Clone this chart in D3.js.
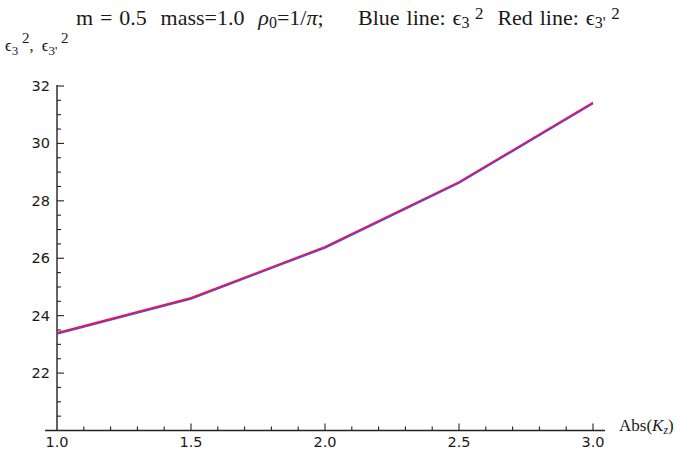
<!DOCTYPE html>
<html>
<head>
<meta charset="utf-8">
<script src="https://cdn.jsdelivr.net/npm/d3@7"></script>
<style>
body { margin: 0; background: #fff; }
text { fill: #1a1a1a; white-space: pre; }
</style>
</head>
<body>
<script>
// Abs(Kz) sample points and the two curves
var kz = [1.0, 1.5, 2.0, 2.5, 3.0];
var eps3 = [23.36, 24.58, 26.36, 28.62, 31.39];
var eps3p = [23.40, 24.62, 26.40, 28.66, 31.43];
var xTicks = [1.0, 1.5, 2.0, 2.5, 3.0];
var yTicks = [22, 24, 26, 28, 30, 32];

var width = 686, height = 459;

var svg = d3.select("body")
	.append("svg")
	.attr("width", width)
	.attr("height", height);

var x = d3.scaleLinear().domain([1, 3]).range([57, 593]);
var y = d3.scaleLinear().domain([20, 32]).range([430.5, 86]);

// axes lines (a bit longer than the data range, like Mathematica)
svg.append("line")
	.attr("x1", 45).attr("x2", 605)
	.attr("y1", y(20)).attr("y2", y(20))
	.attr("stroke", "#222").attr("stroke-width", 1.4);
svg.append("line")
	.attr("x1", x(1)).attr("x2", x(1))
	.attr("y1", y(20)).attr("y2", y(32) - 1)
	.attr("stroke", "#222").attr("stroke-width", 1.4);

// minor + major ticks on x
var xMinor = d3.range(11, 31).map(function(d){ return d / 10; });
svg.selectAll(".xt")
	.data(xMinor)
	.enter()
	.append("line")
	.attr("x1", function(d){ return x(d); })
	.attr("x2", function(d){ return x(d); })
	.attr("y1", y(20))
	.attr("y2", function(d){ return y(20) - (Math.abs(d * 2 - Math.round(d * 2)) < 1e-6 ? 7 : 4); })
	.attr("stroke", "#222").attr("stroke-width", 1.1);

var yMinor = d3.range(41, 65).map(function(d){ return d / 2; });
svg.selectAll(".yt")
	.data(yMinor)
	.enter()
	.append("line")
	.attr("y1", function(d){ return y(d); })
	.attr("y2", function(d){ return y(d); })
	.attr("x1", x(1))
	.attr("x2", function(d){ return x(1) + (d % 2 == 0 ? 7 : 4); })
	.attr("stroke", "#222").attr("stroke-width", 1.1);

svg.selectAll(".xl")
	.data(xTicks)
	.enter()
	.append("text")
	.attr("x", function(d){ return x(d); })
	.attr("y", 447)
	.attr("text-anchor", "middle")
	.attr("font-family", "DejaVu Sans")
	.attr("font-size", 14.5)
	.text(function(d){ return d.toFixed(1); });

svg.selectAll(".yl")
	.data(yTicks)
	.enter()
	.append("text")
	.attr("x", 50)
	.attr("y", function(d){ return y(d) + 5; })
	.attr("text-anchor", "end")
	.attr("font-family", "DejaVu Sans")
	.attr("font-size", 14.5)
	.text(function(d){ return d; });

// curves
var line = d3.line()
	.x(function(d, i){ return x(kz[i]); })
	.y(function(d){ return y(d); });

svg.append("path")
	.attr("d", line(eps3))
	.attr("fill", "none")
	.attr("stroke", "#4848ff")
	.attr("stroke-width", 1.6);
svg.append("path")
	.attr("d", line(eps3p))
	.attr("fill", "none")
	.attr("stroke", "#e8164a")
	.attr("stroke-width", 1.6);

// title
var serif = "Liberation Serif";
var t = svg.append("text")
	.attr("x", 76).attr("y", 25)
	.attr("font-family", serif)
	.attr("font-size", 22)
	.attr("word-spacing", 1.4);
t.append("tspan").text("m = 0.5  mass=1.0  ");
t.append("tspan").attr("font-style", "italic").text("ρ");
t.append("tspan").attr("font-size", 16).attr("dy", 3).text("0");
t.append("tspan").attr("dy", -3).text("=1/");
t.append("tspan").attr("font-style", "italic").text("π");
t.append("tspan").text(";     Blue line: ϵ");
t.append("tspan").attr("font-size", 16).attr("dy", 3).text("3");
t.append("tspan").attr("font-size", 17).attr("dy", -9).text(" 2");
t.append("tspan").attr("dy", 6).text("  Red line: ϵ");
t.append("tspan").attr("font-size", 16).attr("dy", 3).text("3'");
t.append("tspan").attr("font-size", 17).attr("dy", -9).text(" 2");

// y label
var yl = svg.append("text")
	.attr("x", 5).attr("y", 51)
	.attr("font-family", serif)
	.attr("font-size", 16.5);
yl.append("tspan").text("ϵ");
yl.append("tspan").attr("font-size", 13).attr("dy", 4).text("3");
yl.append("tspan").attr("font-size", 15).attr("dy", -12).text(" 2");
yl.append("tspan").attr("dy", 8).text(",  ϵ");
yl.append("tspan").attr("font-size", 13).attr("dy", 4).text("3'");
yl.append("tspan").attr("font-size", 15).attr("dy", -12).text(" 2");

// x label
var xl = svg.append("text")
	.attr("x", 619).attr("y", 431)
	.attr("font-family", serif)
	.attr("font-size", 17);
xl.append("tspan").text("Abs(");
xl.append("tspan").attr("font-style", "italic").text("K");
xl.append("tspan").attr("font-style", "italic").attr("font-size", 12).attr("dy", 3).text("z");
xl.append("tspan").attr("dy", -3).text(")");
</script>
</body>
</html>
